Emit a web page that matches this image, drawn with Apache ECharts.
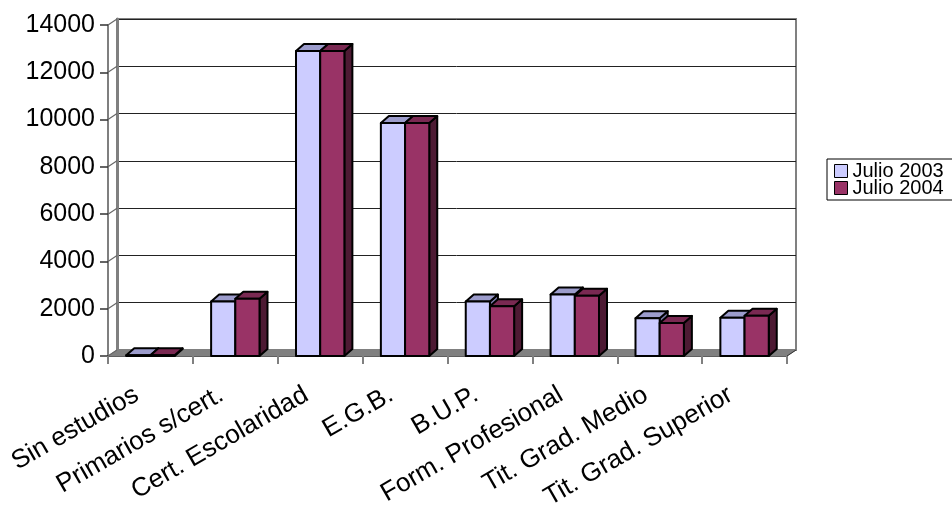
<!DOCTYPE html>
<html>
<head>
<meta charset="utf-8">
<script src="https://cdn.jsdelivr.net/npm/echarts@6/dist/echarts.min.js"></script>
<style>
html,body{margin:0;padding:0;background:#fff;}
#c{width:952px;height:505px;}
</style>
</head>
<body>
<div id="c"></div>
<script>
const categories = ['Sin estudios','Primarios s/cert.','Cert. Escolaridad','E.G.B.','B.U.P.','Form. Profesional','Tit. Grad. Medio','Tit. Grad. Superior'];
const julio2003 = [30, 2300, 12900, 9850, 2300, 2600, 1600, 1620];
const julio2004 = [30, 2420, 12900, 9850, 2100, 2550, 1400, 1700];
const yTicks = [0, 2000, 4000, 6000, 8000, 10000, 12000, 14000];
const seriesNames = ['Julio 2003', 'Julio 2004'];

const FONT = '"Liberation Sans", Arial, sans-serif';
const WALL_DX = 9, WALL_DY = -6;
const BAR_DX = 8, BAR_DY = -7;
const styles = [
  {front:'#CCCCFF', top:'#9C9CCC', side:'#7A7AAA'},
  {front:'#993366', top:'#7A2952', side:'#4D1A33'}
];

function barRenderer(s){
  return function(params, api){
    const idx = api.value(0), v = api.value(1);
    const t = api.coord([idx, v]);
    const b = api.coord([idx, 0]);
    const cw = api.size([1, 0])[0];
    const bw = cw * 0.285;
    const x0 = s === 0 ? t[0] - bw : t[0];
    const x1 = x0 + bw;
    const yT = t[1], yB = b[1];
    const st = styles[s];
    const stroke = {stroke:'#000', lineWidth:2, lineJoin:'round'};
    return {type:'group', children:[
      {type:'polygon', shape:{points:[[x1,yT],[x1+BAR_DX,yT+BAR_DY],[x1+BAR_DX,yB+BAR_DY],[x1,yB]]}, style:Object.assign({fill:st.side}, stroke)},
      {type:'polygon', shape:{points:[[x0,yT],[x1,yT],[x1+BAR_DX,yT+BAR_DY],[x0+BAR_DX,yT+BAR_DY]]}, style:Object.assign({fill:st.top}, stroke)},
      {type:'rect', shape:{x:x0, y:yT, width:bw, height:yB-yT}, style:Object.assign({fill:st.front}, stroke)}
    ]};
  };
}

const chart = echarts.init(document.getElementById('c'), null, {renderer:'canvas'});
const option = {
  backgroundColor:'#fff',
  animation:false,
  legend:{
    data: seriesNames,
    orient:'vertical',
    left:827, top:159,
    padding:[2, 40, 2, 7],
    itemGap:-3,
    itemWidth:13, itemHeight:13,
    icon:'rect',
    borderColor:'#000', borderWidth:1,
    itemStyle:{borderColor:'#000', borderWidth:1},
    textStyle:{fontSize:20, color:'#000', fontFamily:FONT}
  },
  grid:[
    {left:108, top:25, width:679, height:331, containLabel:false, outerBoundsMode:'none'},
    {left:117, top:19, width:679, height:331, containLabel:false, outerBoundsMode:'none', show:true, borderColor:'#808080', borderWidth:2, backgroundColor:'transparent'}
  ],
  xAxis:[
    {type:'category', gridIndex:0, data:categories, boundaryGap:true,
     axisLine:{show:true, lineStyle:{color:'#000', width:1.5}},
     axisTick:{show:true, length:8, lineStyle:{color:'#808080', width:2}},
     axisLabel:{rotate:30, fontSize:26, color:'#000', fontFamily:FONT, margin:29, padding:[0,16,0,0], interval:0, hideOverlap:false},
     splitLine:{show:false}},
    {type:'category', gridIndex:1, data:categories, boundaryGap:true,
     axisLine:{show:false}, axisTick:{show:false}, axisLabel:{show:false}, splitLine:{show:false}}
  ],
  yAxis:[
    {type:'value', gridIndex:0, min:0, max:14000, interval:2000,
     axisLine:{show:true, lineStyle:{color:'#555', width:1.5}},
     axisTick:{show:true, length:8, lineStyle:{color:'#333', width:1.5}},
     axisLabel:{fontSize:25, color:'#000', fontFamily:FONT, margin:13, formatter:function(v){return String(v);}},
     splitLine:{show:false}},
    {type:'value', gridIndex:1, min:0, max:14000, interval:2000,
     axisLine:{show:true, lineStyle:{color:'#808080', width:3}},
     axisTick:{show:false}, axisLabel:{show:false},
     splitLine:{show:true, lineStyle:{color:'#222', width:1}}}
  ],
  series:[
    {type:'custom', name:'floor', xAxisIndex:0, yAxisIndex:0, z:1, silent:true,
     data:[[0,0]],
     renderItem:function(params, api){
       const cs = params.coordSys;
       const y = api.coord([0,0])[1];
       const xl = cs.x, xr = cs.x + cs.width;
       return {type:'group', children:[
         {type:'polygon', shape:{points:[[xl,y],[xr,y],[xr+WALL_DX,y+WALL_DY],[xl+WALL_DX,y+WALL_DY]]}, style:{fill:'#808080', stroke:'#808080', lineWidth:1}},
         {type:'line', shape:{x1:xr, y1:y, x2:xr+WALL_DX, y2:y+WALL_DY}, style:{stroke:'#333', lineWidth:1}}
       ]};
     }},
    {type:'custom', name:'connectors', xAxisIndex:0, yAxisIndex:0, z:1, silent:true,
     data: yTicks.map(t => [0, t]),
     renderItem:function(params, api){
       const cs = params.coordSys;
       const y = api.coord([0, api.value(1)])[1];
       return {type:'line', shape:{x1:cs.x, y1:y, x2:cs.x+WALL_DX, y2:y+WALL_DY}, style:{stroke:'#666', lineWidth:1.2}};
     }},
    {type:'custom', name:seriesNames[0], xAxisIndex:0, yAxisIndex:0, z:3,
     itemStyle:{color:styles[0].front},
     data: julio2003.map((v,i) => [i, v]),
     encode:{x:0, y:1},
     renderItem: barRenderer(0)},
    {type:'custom', name:seriesNames[1], xAxisIndex:0, yAxisIndex:0, z:4,
     itemStyle:{color:styles[1].front},
     data: julio2004.map((v,i) => [i, v]),
     encode:{x:0, y:1},
     renderItem: barRenderer(1)}
  ]
};
chart.setOption(option);
</script>
</body>
</html>
